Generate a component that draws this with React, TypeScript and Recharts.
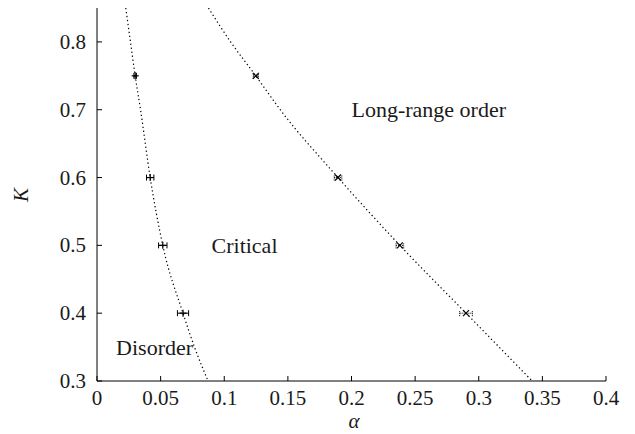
import React from 'react';
import { ComposedChart, Line, Scatter, XAxis, YAxis, ErrorBar } from 'recharts';

const alphaTicks = [0, 0.05, 0.1, 0.15, 0.2, 0.25, 0.3, 0.35, 0.4];
const kTicks = [0.3, 0.4, 0.5, 0.6, 0.7, 0.8];

// fitted boundaries
const lowerCurve = [
  { a: 0.0226, k: 0.85 },
  { a: 0.0263, k: 0.8 },
  { a: 0.030, k: 0.75 },
  { a: 0.0342, k: 0.7 },
  { a: 0.0418, k: 0.6 },
  { a: 0.0517, k: 0.5 },
  { a: 0.0676, k: 0.4 },
  { a: 0.0766, k: 0.35 },
  { a: 0.0873, k: 0.3 },
];
const upperCurve = [
  { a: 0.0876, k: 0.85 },
  { a: 0.105, k: 0.8 },
  { a: 0.1248, k: 0.75 },
  { a: 0.144, k: 0.7 },
  { a: 0.1894, k: 0.6 },
  { a: 0.238, k: 0.5 },
  { a: 0.29, k: 0.4 },
  { a: 0.342, k: 0.3 },
];

// measured transition points with errors on alpha
const lowerPoints = [
  { a: 0.030, k: 0.75, err: 0.001 },
  { a: 0.0418, k: 0.6, err: 0.0029 },
  { a: 0.0517, k: 0.5, err: 0.0033 },
  { a: 0.0676, k: 0.4, err: 0.0044 },
];
const upperPoints = [
  { a: 0.1248, k: 0.75, err: 0.002 },
  { a: 0.1894, k: 0.6, err: 0.003 },
  { a: 0.238, k: 0.5, err: 0.003 },
  { a: 0.29, k: 0.4, err: 0.005 },
];

const regionLabels = [
  { a: 0.2, k: 0.7, text: 'Long-range order' },
  { a: 0.09, k: 0.5, text: 'Critical' },
  { a: 0.015, k: 0.35, text: 'Disorder' },
];

const FONT = 'Liberation Serif';
const FS = 21;
const TL = 5;
const INK = '#1a1a1a';

const BottomTick = (props: any) => {
  const { x, y, payload } = props;
  return (
    <g>
      <line x1={x} x2={x} y1={y} y2={y - TL} stroke="#000" />
      <text x={x} y={y + 23.5} textAnchor="middle" fontFamily={FONT} fontSize={FS} fill={INK}>
        {String(payload.value)}
      </text>
    </g>
  );
};
const TopTick = (props: any) => {
  const { x, y } = props;
  return <line x1={x} x2={x} y1={y} y2={y + TL} stroke="#000" />;
};
const LeftTick = (props: any) => {
  const { x, y, payload } = props;
  return (
    <g>
      <line x1={x} x2={x + TL} y1={y} y2={y} stroke="#000" />
      <text x={x - 11} y={y + 7} textAnchor="end" fontFamily={FONT} fontSize={FS} fill={INK}>
        {String(payload.value)}
      </text>
    </g>
  );
};
const RightTick = (props: any) => {
  const { x, y } = props;
  return <line x1={x - TL} x2={x} y1={y} y2={y} stroke="#000" />;
};

const Plus = (props: any) => {
  const { cx, cy } = props;
  return (
    <g stroke="#000" strokeWidth={1.2}>
      <line x1={cx - 3.5} x2={cx + 3.5} y1={cy} y2={cy} />
      <line x1={cx} x2={cx} y1={cy - 3.5} y2={cy + 3.5} />
    </g>
  );
};
const Cross = (props: any) => {
  const { cx, cy } = props;
  return (
    <g stroke="#000" strokeWidth={1.2}>
      <line x1={cx - 3} x2={cx + 3} y1={cy - 3} y2={cy + 3} />
      <line x1={cx - 3} x2={cx + 3} y1={cy + 3} y2={cy - 3} />
    </g>
  );
};
const RegionText = (props: any) => {
  const { cx, cy, payload } = props;
  return (
    <text x={cx} y={cy + 7.5} fontFamily={FONT} fontSize={22} fill={INK}>
      {payload.text}
    </text>
  );
};

const dots = '1.3 2.7';

export default function App() {
  return (
    <div style={{ position: 'absolute', left: 0, top: 0, width: 635, height: 434, background: '#fff' }}>
      <ComposedChart width={635} height={434} margin={{ top: 8, right: 29, left: 0, bottom: 0 }}>
        <XAxis
          type="number"
          dataKey="a"
          domain={[0, 0.4]}
          ticks={alphaTicks}
          allowDataOverflow
          height={53}
          tickSize={0}
          tickMargin={0}
          tick={<BottomTick />}
          stroke="#000"
        />
        <XAxis
          xAxisId="top"
          orientation="top"
          type="number"
          dataKey="a"
          domain={[0, 0.4]}
          ticks={alphaTicks}
          allowDataOverflow
          height={0}
          tickSize={0}
          tickMargin={0}
          tick={<TopTick />}
          stroke="#000"
        />
        <YAxis
          type="number"
          dataKey="k"
          domain={[0.3, 0.85]}
          ticks={kTicks}
          allowDataOverflow
          width={97}
          tickSize={0}
          tickMargin={0}
          tick={<LeftTick />}
          stroke="#000"
        />
        <YAxis
          yAxisId="r"
          orientation="right"
          type="number"
          dataKey="k"
          domain={[0.3, 0.85]}
          ticks={kTicks}
          allowDataOverflow
          width={0}
          tickSize={0}
          tickMargin={0}
          tick={<RightTick />}
          stroke="#000"
        />
        <Line data={lowerCurve} dataKey="k" type="monotone" stroke="#000" strokeWidth={1.2} strokeDasharray={dots} dot={false} activeDot={false} isAnimationActive={false} />
        <Line data={upperCurve} dataKey="k" type="monotone" stroke="#000" strokeWidth={1.2} strokeDasharray={dots} dot={false} activeDot={false} isAnimationActive={false} />
        <Scatter data={lowerPoints} dataKey="k" shape={<Plus />} isAnimationActive={false}>
          <ErrorBar dataKey="err" direction="x" width={3} stroke="#000" strokeWidth={1} />
        </Scatter>
        <Scatter data={upperPoints} dataKey="k" shape={<Cross />} isAnimationActive={false}>
          <ErrorBar dataKey="err" direction="x" width={3} stroke="#000" strokeWidth={1} strokeDasharray="1 1" />
        </Scatter>
        <Scatter data={regionLabels} dataKey="k" shape={<RegionText />} isAnimationActive={false} />
      </ComposedChart>
      <div
        style={{
          position: 'absolute', left: 21, top: 195, transform: 'translate(-50%, -50%) rotate(-90deg)',
          fontFamily: FONT, fontSize: FS, fontStyle: 'italic', color: INK, lineHeight: 1,
        }}
      >
        K
      </div>
      <div
        style={{
          position: 'absolute', left: 354, top: 421, transform: 'translate(-50%, -50%)',
          fontFamily: FONT, fontSize: FS, fontStyle: 'italic', color: INK, lineHeight: 1,
        }}
      >
        α
      </div>
    </div>
  );
}
